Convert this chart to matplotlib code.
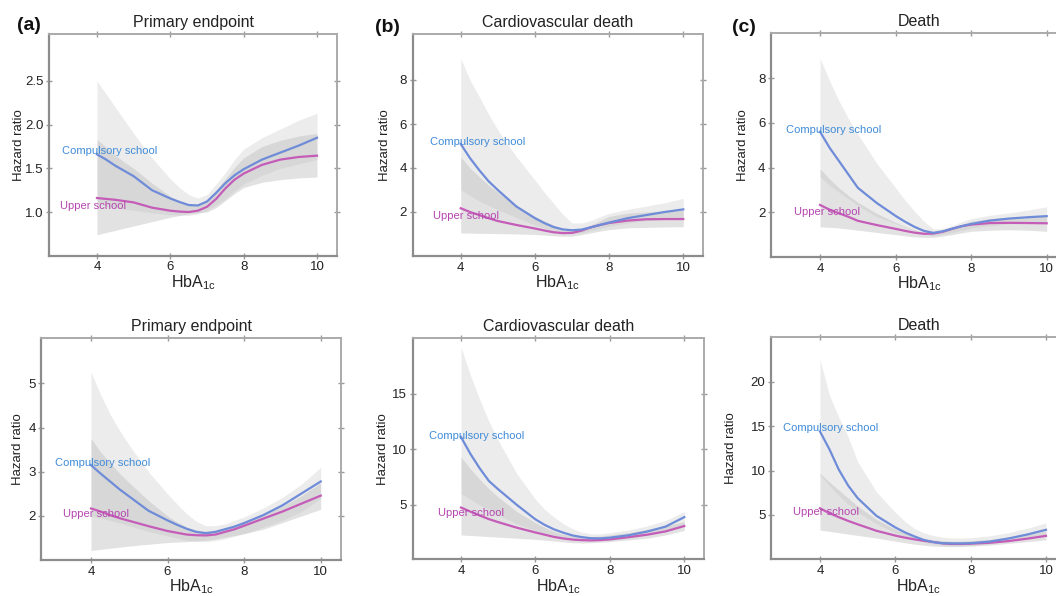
import matplotlib
matplotlib.use("Agg")
import matplotlib.pyplot as plt

plt.rcParams['font.family'] = ['Liberation Sans', 'DejaVu Sans']
plt.rcParams['mathtext.fontset'] = 'custom'
plt.rcParams['mathtext.rm'] = 'Liberation Sans'
plt.rcParams['mathtext.it'] = 'Liberation Sans:italic'

hba1c = [4, 4.25, 4.5, 4.75, 5, 5.5, 6, 6.25, 6.5, 6.75, 7, 7.25, 7.5, 7.75, 8, 8.5, 9, 9.5, 10]
titles = ["Primary endpoint", "Cardiovascular death", "Death",
          "Primary endpoint", "Cardiovascular death", "Death"]
panel_letters = ["(a)", "(b)", "(c)"]

# ---- top row ----
a1_comp = [1.66, 1.60, 1.53, 1.47, 1.41, 1.25, 1.155, 1.115, 1.08, 1.075, 1.12, 1.22, 1.33, 1.42, 1.49, 1.60, 1.68, 1.76, 1.85]
a1_upp = [1.16, 1.15, 1.14, 1.125, 1.11, 1.05, 1.015, 1.005, 1.00, 1.015, 1.06, 1.15, 1.27, 1.37, 1.44, 1.54, 1.60, 1.63, 1.645]
a1_comp_lo = [1.10, 1.07, 1.05, 1.03, 1.02, 0.99, 0.97, 0.965, 0.96, 0.98, 1.02, 1.08, 1.15, 1.24, 1.32, 1.42, 1.50, 1.55, 1.60]
a1_comp_hi = [2.50, 2.35, 2.20, 2.05, 1.90, 1.62, 1.38, 1.28, 1.20, 1.16, 1.20, 1.32, 1.45, 1.60, 1.72, 1.85, 1.95, 2.05, 2.13]
a1_upp_lo = [0.74, 0.765, 0.79, 0.815, 0.84, 0.89, 0.94, 0.96, 0.98, 0.99, 1.00, 1.05, 1.13, 1.21, 1.28, 1.34, 1.37, 1.39, 1.40]
a1_upp_hi = [1.83, 1.74, 1.65, 1.57, 1.50, 1.33, 1.18, 1.12, 1.08, 1.08, 1.14, 1.25, 1.38, 1.51, 1.62, 1.75, 1.82, 1.87, 1.90]

b1_comp = [5.09, 4.45, 3.90, 3.40, 3.00, 2.25, 1.72, 1.50, 1.32, 1.21, 1.17, 1.20, 1.30, 1.41, 1.52, 1.72, 1.86, 2.00, 2.12]
b1_upp = [2.17, 2.00, 1.86, 1.72, 1.59, 1.41, 1.25, 1.16, 1.08, 1.04, 1.05, 1.15, 1.30, 1.41, 1.50, 1.61, 1.67, 1.68, 1.68]
b1_comp_lo = [3.00, 2.75, 2.50, 2.30, 2.10, 1.75, 1.40, 1.27, 1.15, 1.05, 1.00, 1.05, 1.15, 1.25, 1.35, 1.50, 1.60, 1.65, 1.70]
b1_comp_hi = [8.98, 8.00, 7.24, 6.45, 5.73, 4.52, 3.45, 2.90, 2.40, 1.90, 1.50, 1.50, 1.60, 1.78, 1.94, 2.12, 2.27, 2.42, 2.62]
b1_upp_lo = [1.05, 1.04, 1.03, 1.025, 1.02, 1.00, 0.98, 0.95, 0.92, 0.90, 0.90, 0.97, 1.05, 1.13, 1.20, 1.28, 1.30, 1.32, 1.33]
b1_upp_hi = [4.50, 4.00, 3.60, 3.22, 2.90, 2.30, 1.80, 1.60, 1.40, 1.25, 1.17, 1.25, 1.40, 1.60, 1.80, 1.95, 2.00, 2.05, 2.10]

c1_comp = [5.61, 4.90, 4.30, 3.70, 3.10, 2.42, 1.84, 1.58, 1.35, 1.17, 1.08, 1.15, 1.27, 1.38, 1.48, 1.63, 1.72, 1.78, 1.83]
c1_upp = [2.33, 2.12, 1.96, 1.80, 1.62, 1.43, 1.26, 1.17, 1.09, 1.04, 1.05, 1.13, 1.26, 1.38, 1.45, 1.52, 1.53, 1.52, 1.51]
c1_comp_lo = [3.60, 3.20, 2.90, 2.60, 2.30, 1.80, 1.50, 1.33, 1.18, 1.02, 0.95, 1.02, 1.10, 1.20, 1.30, 1.40, 1.48, 1.52, 1.55]
c1_comp_hi = [8.90, 7.90, 7.00, 6.20, 5.50, 4.20, 3.10, 2.55, 2.05, 1.60, 1.25, 1.28, 1.40, 1.58, 1.72, 1.87, 1.97, 2.10, 2.25]
c1_upp_lo = [1.35, 1.33, 1.30, 1.25, 1.20, 1.10, 1.00, 0.95, 0.90, 0.88, 0.88, 0.94, 1.00, 1.08, 1.15, 1.20, 1.22, 1.20, 1.15]
c1_upp_hi = [3.95, 3.50, 3.10, 2.75, 2.45, 1.95, 1.55, 1.37, 1.22, 1.10, 1.07, 1.17, 1.30, 1.46, 1.60, 1.72, 1.78, 1.82, 1.85]

# ---- bottom row ----
a2_comp = [3.15, 2.96, 2.78, 2.60, 2.44, 2.12, 1.90, 1.80, 1.71, 1.64, 1.61, 1.64, 1.70, 1.76, 1.84, 2.02, 2.24, 2.51, 2.78]
a2_upp = [2.17, 2.10, 2.02, 1.95, 1.89, 1.77, 1.66, 1.62, 1.58, 1.565, 1.56, 1.58, 1.64, 1.70, 1.78, 1.94, 2.10, 2.28, 2.46]
a2_comp_lo = [2.00, 1.95, 1.90, 1.84, 1.78, 1.65, 1.55, 1.50, 1.45, 1.43, 1.42, 1.44, 1.48, 1.54, 1.60, 1.75, 1.90, 2.10, 2.40]
a2_comp_hi = [5.25, 4.75, 4.30, 3.93, 3.60, 3.00, 2.50, 2.27, 2.05, 1.88, 1.78, 1.78, 1.82, 1.90, 1.98, 2.18, 2.42, 2.72, 3.10]
a2_upp_lo = [1.22, 1.245, 1.27, 1.295, 1.32, 1.36, 1.40, 1.41, 1.42, 1.43, 1.45, 1.48, 1.52, 1.56, 1.60, 1.70, 1.85, 2.00, 2.15]
a2_upp_hi = [3.75, 3.45, 3.20, 2.96, 2.75, 2.35, 2.00, 1.86, 1.75, 1.68, 1.66, 1.68, 1.73, 1.79, 1.86, 2.02, 2.22, 2.46, 2.75]

b2_comp = [11.1, 9.60, 8.30, 7.15, 6.40, 5.00, 3.70, 3.20, 2.80, 2.50, 2.25, 2.10, 2.00, 1.99, 2.05, 2.27, 2.60, 3.05, 3.90]
b2_upp = [4.76, 4.40, 4.05, 3.72, 3.45, 2.95, 2.52, 2.32, 2.12, 1.98, 1.88, 1.83, 1.81, 1.84, 1.90, 2.10, 2.32, 2.62, 3.10]
b2_comp_lo = [6.00, 5.50, 5.00, 4.55, 4.10, 3.30, 2.70, 2.45, 2.20, 2.00, 1.85, 1.78, 1.75, 1.76, 1.80, 2.00, 2.25, 2.60, 3.20]
b2_comp_hi = [19.2, 16.7, 14.5, 12.5, 10.8, 7.80, 5.50, 4.60, 3.90, 3.30, 2.85, 2.55, 2.40, 2.40, 2.50, 2.75, 3.10, 3.60, 4.40]
b2_upp_lo = [2.30, 2.25, 2.20, 2.15, 2.10, 2.00, 1.90, 1.83, 1.75, 1.67, 1.60, 1.58, 1.60, 1.64, 1.70, 1.85, 2.00, 2.30, 2.70]
b2_upp_hi = [9.30, 8.25, 7.30, 6.45, 5.70, 4.40, 3.40, 2.97, 2.60, 2.36, 2.20, 2.15, 2.15, 2.20, 2.30, 2.50, 2.80, 3.10, 3.50]

c2_comp = [14.4, 12.4, 10.1, 8.30, 6.90, 4.90, 3.60, 3.05, 2.60, 2.20, 1.95, 1.83, 1.80, 1.80, 1.83, 2.00, 2.35, 2.80, 3.33]
c2_upp = [5.75, 5.20, 4.75, 4.33, 3.95, 3.22, 2.68, 2.45, 2.26, 2.10, 1.96, 1.80, 1.74, 1.74, 1.77, 1.87, 2.06, 2.33, 2.65]
c2_comp_lo = [9.50, 8.30, 7.20, 6.20, 5.30, 4.00, 3.00, 2.60, 2.25, 1.95, 1.75, 1.60, 1.50, 1.50, 1.55, 1.75, 2.05, 2.40, 2.80]
c2_comp_hi = [22.5, 18.5, 16.0, 13.8, 11.0, 7.60, 5.30, 4.30, 3.50, 3.00, 2.70, 2.50, 2.40, 2.40, 2.45, 2.65, 3.00, 3.50, 4.10]
c2_upp_lo = [3.30, 3.15, 3.00, 2.85, 2.70, 2.40, 2.05, 1.88, 1.72, 1.60, 1.50, 1.45, 1.43, 1.45, 1.50, 1.60, 1.80, 2.00, 2.20]
c2_upp_hi = [9.70, 8.70, 7.80, 6.90, 6.00, 4.50, 3.40, 2.95, 2.60, 2.35, 2.20, 2.10, 2.05, 2.05, 2.10, 2.25, 2.50, 2.80, 3.20]

panels = [
    (a1_comp, a1_upp, a1_comp_lo, a1_comp_hi, a1_upp_lo, a1_upp_hi),
    (b1_comp, b1_upp, b1_comp_lo, b1_comp_hi, b1_upp_lo, b1_upp_hi),
    (c1_comp, c1_upp, c1_comp_lo, c1_comp_hi, c1_upp_lo, c1_upp_hi),
    (a2_comp, a2_upp, a2_comp_lo, a2_comp_hi, a2_upp_lo, a2_upp_hi),
    (b2_comp, b2_upp, b2_comp_lo, b2_comp_hi, b2_upp_lo, b2_upp_hi),
    (c2_comp, c2_upp, c2_comp_lo, c2_comp_hi, c2_upp_lo, c2_upp_hi),
]

yticks = [[1.0, 1.5, 2.0, 2.5], [2, 4, 6, 8], [2, 4, 6, 8],
          [2, 3, 4, 5], [5, 10, 15], [5, 10, 15, 20]]
yticklabels = [["1.0", "1.5", "2.0", "2.5"], ["2", "4", "6", "8"], ["2", "4", "6", "8"],
               ["2", "3", "4", "5"], ["5", "10", "15"], ["5", "10", "15", "20"]]
ylims = [(0.5, 3.04), (0, 10.1), (0, 10.05), (1, 6.02), (0.1, 20), (0, 25.06)]
xticks = [4, 6, 8, 10]

comp_label_pos = [(3.05, 1.70), (3.16, 5.17), (3.10, 5.69),
                  (3.06, 3.19), (3.14, 11.17), (3.01, 14.75)]
upp_label_pos = [(3.00, 1.065), (3.25, 1.82), (3.32, 2.0),
                 (3.26, 2.04), (3.37, 4.3), (3.29, 5.37)]

# axes boxes in pixels: left, right, top, bottom
boxes = [(49.3, 336.8, 33.8, 255.7), (412.5, 703.3, 33.8, 256.0), (770.9, 1067.1, 32.5, 257.0),
         (41.2, 341.4, 338.2, 560.2), (412.6, 704.4, 338.0, 559.4), (771.0, 1066.3, 336.7, 559.4)]
ylabel_offset_px = [33, 30, 31, 26, 33, 43]

W, H = 1056, 596
fig = plt.figure(figsize=(W / 100, H / 100), dpi=100)

blue_line = '#6f8cd8'
blue_text = '#3f8bd8'
mag_line = '#c45cb8'
mag_text = '#b645b0'
band_col = '#b8b8b8'

for i, (comp, upp, clo, chi, ulo, uhi) in enumerate(panels):
    l, r, t, b = boxes[i]
    ax = fig.add_axes([l / W, 1 - b / H, (r - l) / W, (b - t) / H])
    ax.fill_between(hba1c, clo, chi, color=band_col, alpha=0.26, lw=0)
    ax.fill_between(hba1c, ulo, uhi, color=band_col, alpha=0.40, lw=0)
    ax.plot(hba1c, upp, color=mag_line, lw=1.6, solid_joinstyle='round')
    ax.plot(hba1c, comp, color=blue_line, lw=1.6, solid_joinstyle='round')
    ax.text(*comp_label_pos[i], "Compulsory school", color=blue_text, fontsize=8,
            ha='left', va='center')
    ax.text(*upp_label_pos[i], "Upper school", color=mag_text, fontsize=8,
            ha='left', va='center')
    ax.set_xlim(2.7, 10.54)
    ax.set_ylim(*ylims[i])
    ax.set_xticks(xticks)
    ax.set_xticklabels([str(v) for v in xticks])
    ax.set_yticks(yticks[i])
    ax.set_yticklabels(yticklabels[i])
    ax.tick_params(axis='both', which='both', direction='inout', length=4, width=1,
                   color='#9a9a9a', labelsize=9.5, labelcolor='#222222',
                   top=True, right=True, pad=2)
    for side in ['left', 'bottom']:
        ax.spines[side].set_color('#8c8c8c')
        ax.spines[side].set_linewidth(1.6)
    for side in ['top', 'right']:
        ax.spines[side].set_color('#aaaaaa')
        ax.spines[side].set_linewidth(1.4)
    ax.set_title(titles[i], fontsize=11.5, color='#222222', pad=5)
    ax.set_xlabel(r'HbA$_{\mathrm{1c}}$', fontsize=11.5, color='#222222', labelpad=0)
    ax.set_ylabel('Hazard ratio', fontsize=9.5, color='#222222')
    ax.yaxis.set_label_coords(-(ylabel_offset_px[i] - 9) / (r - l), 0.5)

letter_pos = [(17, 26), (375, 28), (732, 27)]
for (px, py), lab in zip(letter_pos, panel_letters):
    fig.text(px / W, 1 - py / H, lab, fontsize=14, fontweight='bold',
             ha='left', va='center', color='#111111')

fig.savefig("out.png", dpi=100, facecolor='white')
